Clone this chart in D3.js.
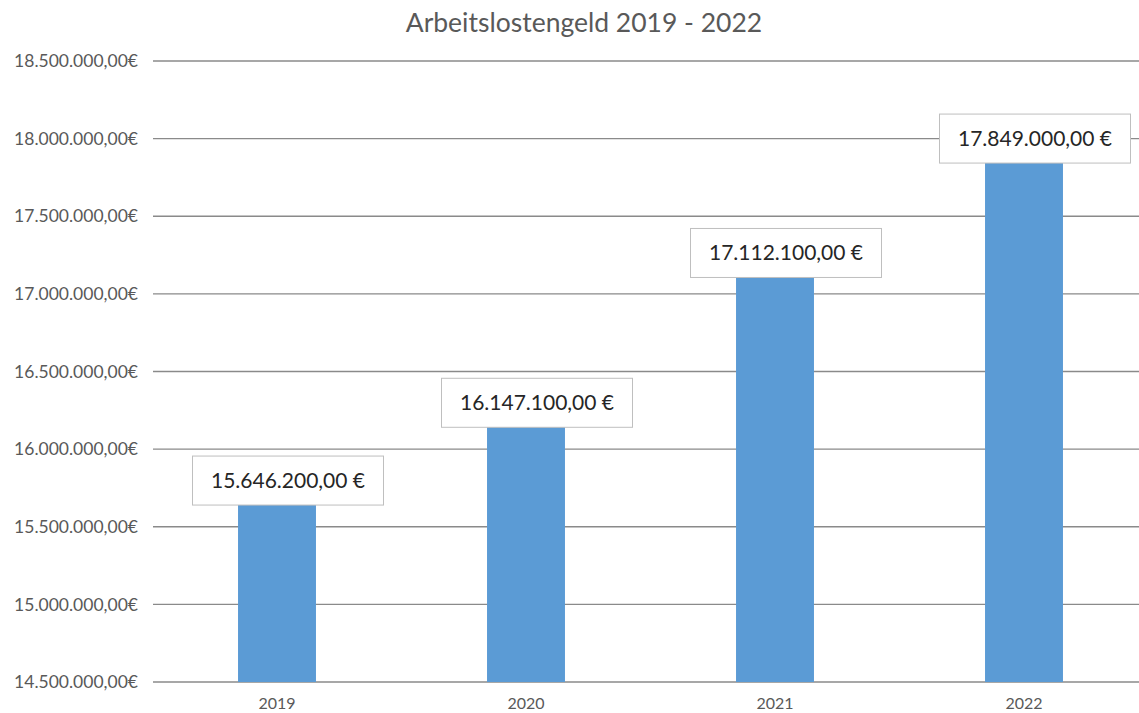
<!DOCTYPE html>
<html>
<head>
<meta charset="utf-8">
<script src="https://cdn.jsdelivr.net/npm/d3@7"></script>
<style>
  body { margin: 0; background: #fff; }
  text { font-family: Lato, "Open Sans", sans-serif; }
</style>
</head>
<body>
<div id="chart"></div>
<script>
// values
var years = ["2019", "2020", "2021", "2022"];
var amounts = [15646200, 16147100, 17112100, 17849000];
var yTicks = [14500000, 15000000, 15500000, 16000000, 16500000, 17000000, 17500000, 18000000, 18500000];
var title = "Arbeitslostengeld 2019 - 2022";

var width = 1139
height = 713

var svg = d3.select("#chart")
  .append("svg")
  .attr("width", width)
  .attr("height", height);

// german number format
var de = d3.formatLocale({ decimal: ",", thousands: ".", grouping: [3], currency: ["", "€"] });
var fmt = de.format(",.2f");

var x = d3.scaleBand()
  .domain(years)
  .range([152.5, 1148.5])
  .paddingInner(0.687)
  .paddingOuter(0.3435);

var y = d3.scaleLinear()
  .domain([14500000, 18500000])
  .range([682, 61]);

// title
svg.append("text")
  .attr("x", 584)
  .attr("y", 32)
  .attr("text-anchor", "middle")
  .style("font-size", "26.5px")
  .style("fill", "#595959")
  .text(title);

// grid lines
svg.selectAll(".grid")
  .data(yTicks)
  .enter()
  .append("line")
  .attr("x1", 153)
  .attr("x2", width)
  .attr("y1", function (d) { return y(d); })
  .attr("y2", function (d) { return y(d); })
  .attr("stroke", "#8a8a8a")
  .attr("stroke-width", 1.4);

// y axis labels
svg.selectAll(".ylab")
  .data(yTicks)
  .enter()
  .append("text")
  .attr("x", 138)
  .attr("y", function (d) { return y(d); })
  .attr("dy", "0.35em")
  .attr("text-anchor", "end")
  .style("font-size", "17.5px")
  .style("fill", "#595959")
  .text(function (d) { return fmt(d) + "€"; });

// bars
svg.selectAll(".bar")
  .data(amounts)
  .enter()
  .append("rect")
  .attr("x", function (d, i) { return x(years[i]); })
  .attr("width", x.bandwidth())
  .attr("y", function (d) { return y(d); })
  .attr("height", function (d) { return y(14500000) - y(d); })
  .attr("fill", "#5b9bd5");

// x labels
svg.selectAll(".xlab")
  .data(years)
  .enter()
  .append("text")
  .attr("x", function (d) { return x(d) + x.bandwidth() / 2; })
  .attr("y", 703)
  .attr("dy", "0.35em")
  .attr("text-anchor", "middle")
  .style("font-size", "16px")
  .style("fill", "#595959")
  .text(function (d) { return d; });

// value label boxes
var boxW = 191, boxH = 49;
var labels = svg.selectAll(".lab")
  .data(amounts)
  .enter()
  .append("g")
  .attr("transform", function (d, i) {
    var cx = x(years[i]) + x.bandwidth() / 2 + 11;
    return "translate(" + cx + "," + (y(d) + 1 - boxH) + ")";
  });

labels.append("rect")
  .attr("x", -boxW / 2)
  .attr("width", boxW)
  .attr("height", boxH)
  .attr("fill", "#fff")
  .attr("stroke", "#bfbfbf")
  .attr("stroke-width", 1);

labels.append("text")
  .attr("y", boxH / 2)
  .attr("dy", "0.35em")
  .attr("text-anchor", "middle")
  .style("font-size", "21px")
  .style("fill", "#262626")
  .text(function (d) { return fmt(d) + " €"; });
</script>
</body>
</html>
